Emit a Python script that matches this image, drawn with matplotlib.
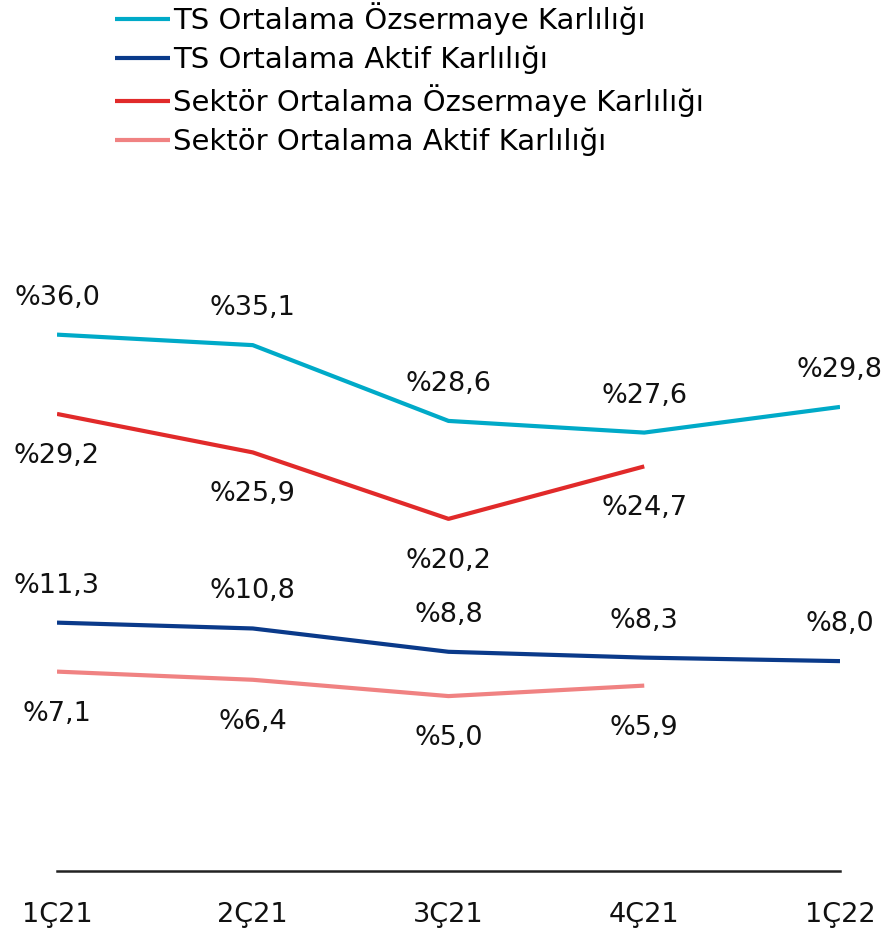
import matplotlib
matplotlib.use("Agg")
import matplotlib.pyplot as plt

plt.rcParams['font.family'] = ['DejaVu Sans']

categories = ["1Ç21", "2Ç21", "3Ç21", "4Ç21", "1Ç22"]
ts_ozsermaye = [36.0, 35.1, 28.6, 27.6, 29.8]
ts_aktif = [11.3, 10.8, 8.8, 8.3, 8.0]
sektor_ozsermaye = [29.2, 25.9, 20.2, 24.7]
sektor_aktif = [7.1, 6.4, 5.0, 5.9]

series = [
    ("TS Ortalama Özsermaye Karlılığı", ts_ozsermaye, "#00AAC8", "above"),
    ("TS Ortalama Aktif Karlılığı", ts_aktif, "#0A3A8A", "above"),
    ("Sektör Ortalama Özsermaye Karlılığı", sektor_ozsermaye, "#E12A2A", "below"),
    ("Sektör Ortalama Aktif Karlılığı", sektor_aktif, "#F08282", "below"),
]

fig = plt.figure(figsize=(8.89, 9.33), dpi=100)
ax = fig.add_axes([57/889, 1 - 871/933, (840-57)/889, (871-288)/933])

x = list(range(len(categories)))
fs = 19.5
for name, vals, color, pos in series:
    xs = x[:len(vals)]
    ax.plot(xs, vals, color=color, lw=3.0, label=name, solid_capstyle='butt')
    for xi, v in zip(xs, vals):
        lbl = "%" + f"{v:.1f}".replace(".", ",")
        dy = 37 if pos == "above" else -42
        ax.annotate(lbl, (xi, v), xytext=(0, dy), textcoords="offset pixels",
                    ha="center", va="center", fontsize=fs, color="#111111")

ax.set_xlim(0, 4)
ax.set_ylim(-10, 40)
ax.set_xticks(x)
ax.set_xticklabels(categories, fontsize=fs, color="#111111")
ax.tick_params(axis='x', length=0, pad=22)
ax.set_yticks([])
for s in ["top", "right", "left"]:
    ax.spines[s].set_visible(False)
ax.spines["bottom"].set_color("#222222")
ax.spines["bottom"].set_linewidth(1.8)

handles, labels = ax.get_legend_handles_labels()
fig.legend(handles, labels, loc="upper left", bbox_to_anchor=(115/889, 1 - 2/933),
           frameon=False, fontsize=21, handlelength=1.9, handletextpad=0.08,
           labelspacing=0.36, borderaxespad=0, borderpad=0)

fig.savefig("out.png", dpi=100)
